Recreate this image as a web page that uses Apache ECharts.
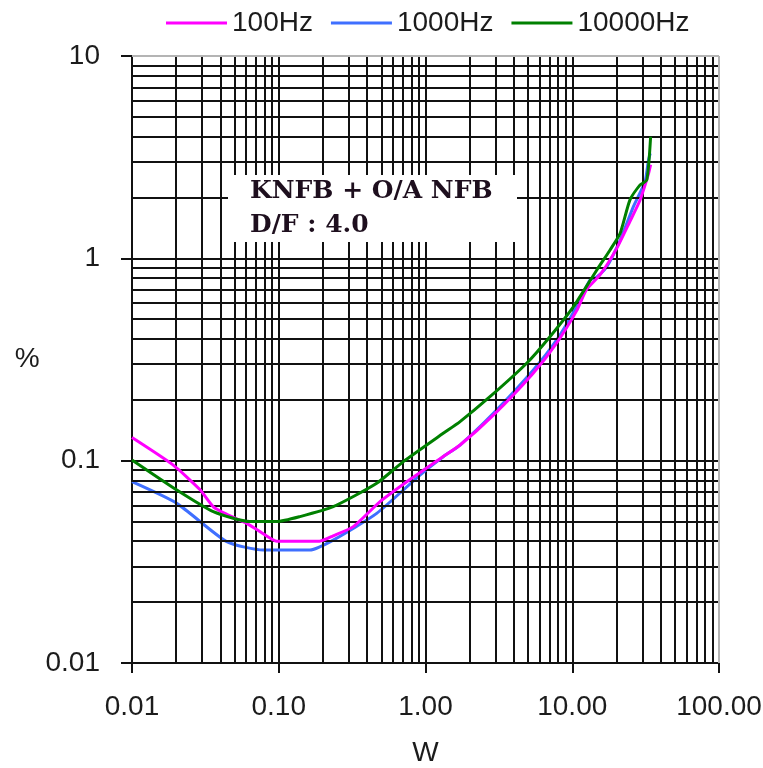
<!DOCTYPE html>
<html>
<head>
<meta charset="utf-8">
<script src="https://cdn.jsdelivr.net/npm/echarts@6/dist/echarts.min.js"></script>
<style>
  html, body { margin: 0; padding: 0; background: #fff; }
  #chart { width: 763px; height: 768px; }
</style>
</head>
<body>
<div id="chart"></div>
<script>
// Distortion (%) versus output power (W), KNFB + O/A NFB, damping factor 4.0
const seriesNames = ['100Hz', '1000Hz', '10000Hz'];

const w100 = [0.010, 0.0191, 0.029, 0.036, 0.045, 0.0605, 0.0745, 0.097, 0.19, 0.235, 0.322, 0.49, 0.805, 1.3, 1.72, 2.9, 5.4, 7.8, 10.7, 12.5, 15.5, 20.1, 24.7, 28.9, 33.0, 34.2];
const d100 = [0.130, 0.095, 0.072, 0.059, 0.054, 0.049, 0.0446, 0.040, 0.040, 0.0425, 0.0472, 0.0627, 0.0818, 0.104, 0.1195, 0.168, 0.27, 0.38, 0.55, 0.70, 0.83, 1.12, 1.52, 1.93, 2.6, 2.9];

const w1000 = [0.010, 0.0202, 0.0442, 0.0785, 0.163, 0.235, 0.465, 0.917, 1.32, 1.72, 2.90, 5.43, 7.83, 10.7, 13.2, 14.7, 17.2, 21.2, 26.1, 31.3, 33.0, 34.0];
const d1000 = [0.0787, 0.0615, 0.0398, 0.0362, 0.0362, 0.0405, 0.0549, 0.0849, 0.1046, 0.1195, 0.1714, 0.2806, 0.395, 0.577, 0.78, 0.81, 0.909, 1.23, 1.80, 2.39, 3.03, 3.30];

const w10000 = [0.010, 0.0202, 0.0358, 0.0637, 0.0968, 0.1396, 0.235, 0.465, 0.706, 1.32, 1.72, 2.75, 4.89, 7.05, 10.2, 14.7, 18.1, 21.2, 24.7, 28.9, 32.2, 34.2];
const d10000 = [0.1008, 0.0716, 0.056, 0.050, 0.050, 0.0529, 0.0592, 0.0773, 0.0989, 0.1365, 0.156, 0.207, 0.303, 0.41, 0.577, 0.876, 1.10, 1.33, 1.94, 2.30, 2.44, 3.99];

// Minor grid positions (2..9 within each decade)
const xMinorGrid = [0.02, 0.03, 0.04, 0.05, 0.06, 0.07, 0.08, 0.09,
                    0.2, 0.3, 0.4, 0.5, 0.6, 0.7, 0.8, 0.9,
                    2, 3, 4, 5, 6, 7, 8, 9,
                    20, 30, 40, 50, 60, 70, 80, 90];
const yMinorGrid = [0.02, 0.03, 0.04, 0.05, 0.06, 0.07, 0.08, 0.09,
                    0.2, 0.3, 0.4, 0.5, 0.6, 0.7, 0.8, 0.9,
                    2, 3, 4, 5, 6, 7, 8, 9];

// Plot-area frame on the far sides (top at 10 %, right at 100 W)
const xFrame = [100];
const yFrame = [10];

const noteLines = ['KNFB + O/A NFB', 'D/F : 4.0'];

const SANS = "'Liberation Sans', Arial, sans-serif";
const colors = ['#ff00ff', '#3f6fff', '#008000'];
const textColor = '#1c1c1c';

function pairs(xs, ys) { return xs.map((x, i) => [x, ys[i]]); }

const chart = echarts.init(document.getElementById('chart'), null, { renderer: 'canvas' });

const option = {
  animation: false,
  backgroundColor: '#fff',
  color: colors,
  legend: {
    data: seriesNames,
    left: 166,
    top: 9,
    padding: 0,
    icon: 'rect',
    itemWidth: 61,
    itemHeight: 3,
    itemGap: 18,
    textStyle: { fontFamily: SANS, fontSize: 28, color: textColor }
  },
  grid: { left: 132, top: 56, right: 44, bottom: 105, containLabel: false, outerBoundsMode: 'none' },
  xAxis: {
    type: 'log',
    logBase: 10,
    min: 0.01,
    max: 100,
    name: 'W',
    nameLocation: 'middle',
    nameGap: 76,
    nameTextStyle: { fontFamily: SANS, fontSize: 28, color: textColor },
    axisLine: { show: true, lineStyle: { color: '#111', width: 2 } },
    axisTick: { show: true, inside: false, length: 10, lineStyle: { color: '#111', width: 2 } },
    axisLabel: {
      margin: 30,
      fontFamily: SANS, fontSize: 28, color: textColor,
      formatter: v => Number(v).toFixed(2)
    },
    splitLine: { show: true, lineStyle: { color: '#111', width: 2 } },
    minorTick: { show: false },
    minorSplitLine: { show: false }
  },
  yAxis: {
    type: 'log',
    logBase: 10,
    min: 0.01,
    max: 10,
    name: '%',
    nameLocation: 'middle',
    nameRotate: 0,
    nameGap: 100,
    nameTextStyle: { fontFamily: SANS, fontSize: 28, color: textColor, align: 'center', verticalAlign: 'middle' },
    axisLine: { show: true, lineStyle: { color: '#111', width: 2 } },
    axisTick: { show: true, inside: false, length: 11, lineStyle: { color: '#111', width: 2 } },
    axisLabel: {
      margin: 32,
      fontFamily: SANS, fontSize: 28, color: textColor,
      formatter: v => String(Number(Number(v).toPrecision(3)))
    },
    splitLine: { show: true, lineStyle: { color: '#111', width: 2 } }
  },
  graphic: [
    {
      type: 'rect',
      z: 100,
      shape: { x: 228, y: 175, width: 289, height: 67 },
      style: { fill: '#fff' }
    },
    {
      type: 'text',
      z: 101,
      left: 250,
      top: 174,
      style: {
        text: noteLines.join('\n'),
        font: "bold 25px 'DejaVu Serif', 'Liberation Serif', serif",
        lineHeight: 34,
        fill: '#1e0f1e'
      }
    }
  ],
  series: [
    {
      name: 'grid',
      type: 'line',
      data: [],
      z: 1,
      silent: true,
      markLine: {
        silent: true,
        symbol: 'none',
        label: { show: false },
        lineStyle: { color: '#111', width: 2, type: 'solid' },
        emphasis: { disabled: true },
        data: xMinorGrid.map(v => ({ xAxis: v })).concat(yMinorGrid.map(v => ({ yAxis: v })))
      }
    },
    {
      name: 'frame',
      type: 'line',
      data: [],
      z: 2,
      silent: true,
      markLine: {
        silent: true,
        symbol: 'none',
        label: { show: false },
        lineStyle: { color: '#b4b4b4', width: 2, type: 'solid' },
        emphasis: { disabled: true },
        data: xFrame.map(v => ({ xAxis: v })).concat(yFrame.map(v => ({ yAxis: v })))
      }
    },
    {
      name: seriesNames[0], type: 'line', z: 5, showSymbol: false, smooth: 0.2,
      lineStyle: { width: 3, color: colors[0] }, itemStyle: { color: colors[0] },
      data: pairs(w100, d100)
    },
    {
      name: seriesNames[1], type: 'line', z: 4, showSymbol: false, smooth: 0.2,
      lineStyle: { width: 3, color: colors[1] }, itemStyle: { color: colors[1] },
      data: pairs(w1000, d1000)
    },
    {
      name: seriesNames[2], type: 'line', z: 6, showSymbol: false, smooth: 0.2,
      lineStyle: { width: 3, color: colors[2] }, itemStyle: { color: colors[2] },
      data: pairs(w10000, d10000)
    }
  ]
};

chart.setOption(option);
</script>
</body>
</html>
